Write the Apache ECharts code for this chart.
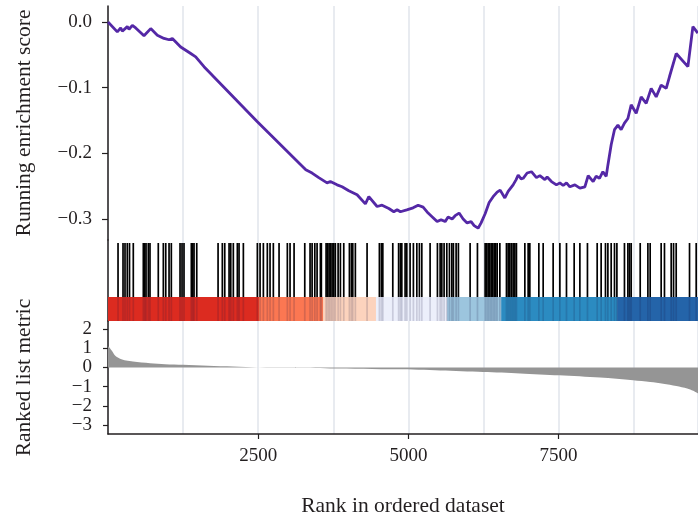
<!DOCTYPE html>
<html>
<head>
<meta charset="utf-8">
<script src="https://cdn.jsdelivr.net/npm/echarts@6/dist/echarts.min.js"></script>
<style>
  html, body { margin: 0; background: #fff; }
  #main { width: 698px; height: 519px; }
</style>
</head>
<body>
<div id="main"></div>
<script>
// ---- data ----
const rankMax = 9820;

// running enrichment score
const esRanks = [
  0, 155, 211, 238, 321, 350, 405, 461, 488, 599,
  711, 821, 932, 1016, 1071, 1210, 1377, 1460, 1598, 2486,
  3292, 3397, 3508, 3646, 3701, 3813, 3896, 4008, 4146, 4284,
  4341, 4479, 4562, 4674, 4757, 4812, 4867, 4973, 5078, 5162,
  5245, 5328, 5411, 5478, 5544, 5611, 5661, 5728, 5778, 5844,
  5911, 5977, 6044, 6094, 6160, 6210, 6277, 6344, 6410, 6477,
  6527, 6605, 6660, 6743, 6793, 6827, 6876, 6910, 6976, 7048,
  7131, 7188, 7271, 7309, 7381, 7464, 7521, 7576, 7631, 7687,
  7771, 7854, 7937, 7992, 8075, 8125, 8180, 8237, 8292, 8320,
  8375, 8430, 8487, 8541, 8596, 8653, 8708, 8791, 8874, 8958,
  9041, 9124, 9207, 9291, 9346, 9457, 9652, 9735, 9817
];
const esScores = [
  0, -0.015, -0.009, -0.014, -0.007, -0.011, -0.005, -0.009, -0.010, -0.021,
  -0.010, -0.020, -0.025, -0.027, -0.025, -0.038, -0.048, -0.053, -0.068, -0.152,
  -0.225, -0.230, -0.237, -0.245, -0.243, -0.248, -0.251, -0.257, -0.263, -0.277,
  -0.266, -0.281, -0.279, -0.284, -0.289, -0.286, -0.289, -0.286, -0.283, -0.279,
  -0.282, -0.291, -0.298, -0.304, -0.301, -0.304, -0.297, -0.300, -0.295, -0.291,
  -0.300, -0.306, -0.304, -0.310, -0.314, -0.306, -0.292, -0.275, -0.266, -0.259,
  -0.256, -0.268, -0.258, -0.248, -0.240, -0.233, -0.239, -0.238, -0.230, -0.228,
  -0.237, -0.234, -0.240, -0.236, -0.243, -0.248, -0.245, -0.249, -0.245, -0.251,
  -0.248, -0.253, -0.251, -0.234, -0.243, -0.235, -0.238, -0.228, -0.235, -0.218,
  -0.187, -0.164, -0.157, -0.164, -0.154, -0.147, -0.126, -0.139, -0.114, -0.124,
  -0.101, -0.114, -0.096, -0.101, -0.083, -0.048, -0.068, -0.007, -0.017
];

// gene set hits (rank positions)
const hitRanks = [
  167, 250, 283, 321, 358, 421, 588, 611, 633, 671, 699, 837, 921, 961, 1016, 1054,
  1199, 1232, 1265, 1387, 1410, 1432, 1477, 1832, 1903, 1943, 2015, 2043, 2086, 2153,
  2181, 2253, 2486, 2531, 2586, 2652, 2697, 2752, 2847, 2985, 3030, 3097, 3275, 3363,
  3397, 3442, 3480, 3535, 3551, 3630, 3655, 3680, 3705, 3730, 3758, 3784, 3830, 3868,
  3924, 4018, 4051, 4074, 4117, 4312, 4517, 4550, 4574, 4740, 4837, 4867, 4890, 4945,
  4973, 5028, 5083, 5140, 5183, 5223, 5361, 5483, 5528, 5556, 5594, 5639, 5683, 5723,
  5749, 5794, 5832, 6027, 6149, 6277, 6302, 6327, 6352, 6377, 6402, 6427, 6452, 6477,
  6522, 6632, 6660, 6688, 6715, 6743, 6772, 6798, 6938, 6993, 7021, 7171, 7243, 7409,
  7521, 7631, 7759, 7854, 7980, 8142, 8208, 8280, 8320, 8375, 8430, 8470, 8596, 8653,
  8680, 8708, 8858, 8986, 9024, 9207, 9262, 9374, 9413, 9457, 9679, 9790
];

// colour band segments
const bandStarts = [0, 2510, 3580, 4460, 5645, 6545, 8475];
const bandEnds   = [2510, 3580, 4460, 5645, 6545, 8475, rankMax];
const bandColors = ['#dc2b20', '#fb7752', '#fcd3bd', '#eceffb', '#9cc5de', '#2b8bc1', '#2464a9'];

// ranked list metric
const metricRanks  = [0, 33, 67, 117, 200, 300, 416, 700, 950, 1250, 1665, 2080, 2500, 3030, 3700, 4810, 5530, 6245, 6860, 7510, 8190, 8740, 9025, 9240, 9460, 9640, 9740, 9820];
const metricValues = [1.1, 1.0, 0.85, 0.62, 0.45, 0.36, 0.31, 0.22, 0.17, 0.14, 0.09, 0.05, 0.0, -0.02, -0.05, -0.1, -0.16, -0.24, -0.31, -0.41, -0.53, -0.67, -0.76, -0.85, -0.97, -1.1, -1.22, -1.36];

// tick labels
const esTicks = [0, -0.1, -0.2, -0.3];
const metricTicks = [2, 1, 0, -1, -2, -3];
const rankTicks = [2500, 5000, 7500];

// ---- chart ----
const serif = "'Liberation Serif', 'DejaVu Serif', serif";
const ink = '#231f20';
const gridColor = '#e1e4eb';
const minus = v => (v < 0 ? '\u2212' : '') + Math.abs(v);

const lineTop = 0.963;   // barcode top inside grid 2
const bandTop = 0.296;   // colour band top inside grid 2

function splitAxis(idx) {
  return {
    gridIndex: idx, type: 'value', min: 0, max: rankMax, interval: 1250,
    position: 'bottom',
    axisLine: { show: false }, axisTick: { show: false }, axisLabel: { show: false },
    splitLine: { show: true, lineStyle: { color: gridColor, width: 1.5 } }
  };
}

var myChart = echarts.init(document.getElementById('main'));
myChart.setOption({
  animation: false,
  grid: [
    { left: 108, right: 0, top: 6, height: 234 },
    { left: 108, right: 0, top: 240, height: 81 },
    { left: 108, right: 0, top: 321, height: 113 }
  ],
  xAxis: [
    splitAxis(0),
    splitAxis(1),
    splitAxis(2),
    {
      gridIndex: 2, type: 'value', min: 0, max: rankMax, position: 'bottom',
      axisLine: { show: true, onZero: false, lineStyle: { color: ink, width: 1.5 } },
      axisTick: { show: true, length: 5, customValues: rankTicks, lineStyle: { color: ink, width: 1.2 } },
      axisLabel: { customValues: rankTicks, fontFamily: serif, fontSize: 19, color: ink, margin: 13,
        formatter: v => String(v) },
      splitLine: { show: false },
      name: 'Rank in ordered dataset', nameLocation: 'middle', nameGap: 61,
      nameTextStyle: { fontFamily: serif, fontSize: 21.5, color: ink }
    }
  ],
  yAxis: [
    {
      gridIndex: 0, type: 'value', min: -0.332, max: 0.0244,
      axisLine: { show: true, lineStyle: { color: ink, width: 1.5 } },
      axisTick: { show: true, length: 6, customValues: esTicks, lineStyle: { color: ink, width: 1.2 } },
      axisLabel: {
        customValues: esTicks, fontFamily: serif, fontSize: 19, color: ink, margin: 16,
        formatter: v => v === 0 ? '0.0' : '\u2212' + Math.abs(v).toFixed(1)
      },
      splitLine: { show: false },
      name: 'Running enrichment score', nameLocation: 'middle', nameGap: 73,
      nameTextStyle: { fontFamily: serif, fontSize: 21.5, color: ink }
    },
    {
      gridIndex: 1, type: 'value', min: 0, max: 1,
      axisLine: { show: true, lineStyle: { color: ink, width: 1.5 } },
      axisTick: { show: false }, axisLabel: { show: false }, splitLine: { show: false }
    },
    {
      gridIndex: 2, type: 'value', min: -3.47, max: 2.42,
      axisLine: { show: true, lineStyle: { color: ink, width: 1.5 } },
      axisTick: { show: true, length: 5, customValues: metricTicks, lineStyle: { color: ink, width: 1.2 } },
      axisLabel: { customValues: metricTicks, fontFamily: serif, fontSize: 19, color: ink, margin: 16, formatter: minus },
      splitLine: { show: false },
      name: 'Ranked list metric', nameLocation: 'middle', nameGap: 73,
      nameTextStyle: { fontFamily: serif, fontSize: 21.5, color: ink }
    }
  ],
  series: [
    {
      type: 'line', xAxisIndex: 0, yAxisIndex: 0,
      data: esRanks.map((r, i) => [r, esScores[i]]),
      symbol: 'none',
      lineStyle: { color: '#5428a6', width: 2.8 },
      z: 3
    },
    {
      type: 'custom', xAxisIndex: 1, yAxisIndex: 1,
      data: bandStarts.map((s, i) => [s, bandEnds[i], i]),
      encode: { x: [0, 1] },
      renderItem: function (params, api) {
        const p0 = api.coord([api.value(0), bandTop]);
        const p1 = api.coord([api.value(1), 0]);
        return {
          type: 'rect',
          shape: { x: p0[0], y: p0[1], width: p1[0] - p0[0] + 0.5, height: p1[1] - p0[1] },
          style: { fill: bandColors[api.value(2)] }
        };
      },
      z: 2
    },
    {
      type: 'custom', xAxisIndex: 1, yAxisIndex: 1,
      data: hitRanks.map(r => [r, 0]),
      encode: { x: 0 },
      renderItem: function (params, api) {
        const top = api.coord([api.value(0), lineTop]);
        const mid = api.coord([api.value(0), bandTop]);
        const bot = api.coord([api.value(0), 0]);
        return {
          type: 'group',
          children: [
            { type: 'line', shape: { x1: top[0], y1: top[1], x2: mid[0], y2: mid[1] },
              style: { stroke: '#000', lineWidth: 1.7 } },
            { type: 'line', shape: { x1: mid[0], y1: mid[1], x2: bot[0], y2: bot[1] },
              style: { stroke: 'rgba(20,20,60,0.16)', lineWidth: 1.7 } }
          ]
        };
      },
      z: 3
    },
    {
      type: 'line', xAxisIndex: 2, yAxisIndex: 2,
      data: metricRanks.map((r, i) => [r, metricValues[i]]),
      symbol: 'none', smooth: 0.3,
      lineStyle: { width: 0 },
      areaStyle: { color: '#959595', opacity: 1 },
      z: 3
    }
  ]
});
</script>
</body>
</html>
